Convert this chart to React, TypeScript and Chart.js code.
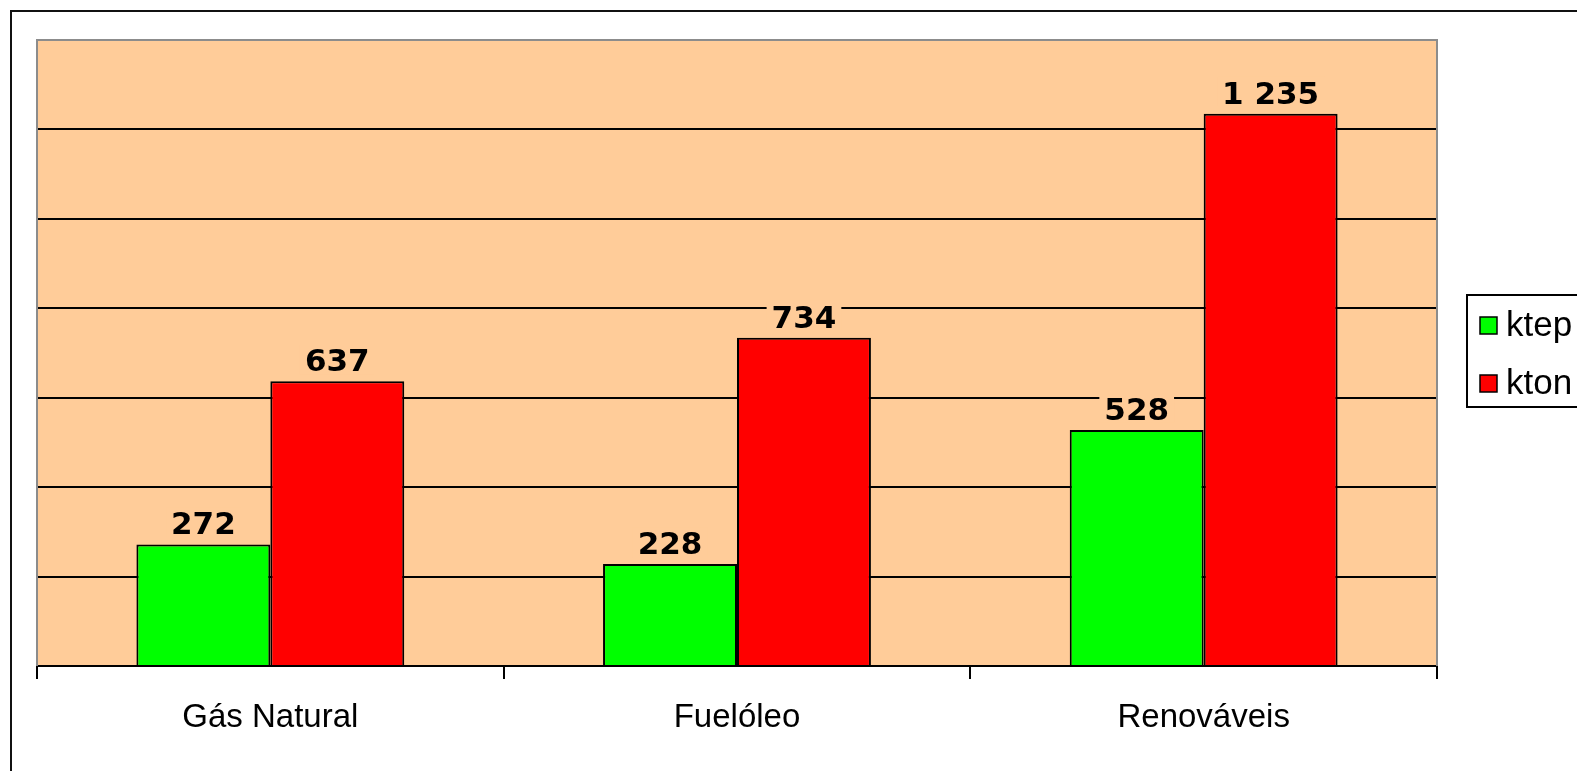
import React, { useEffect, useRef } from "react";
import { Chart, registerables } from "chart.js";

Chart.register(...registerables);

const categories = ["Gás Natural", "Fuelóleo", "Renováveis"];
const seriesNames = ["ktep", "kton"];
const ktepValues = [272, 228, 528];
const ktonValues = [637, 734, 1235];
const yMax = 1400;
const yStep = 200;

const PLOT_BG = "#FFCC99";
const GREEN = "#00FF00";
const RED = "#FF0000";

function fmt(v: number): string {
  return String(v).replace(/\B(?=(\d{3})+(?!\d))/g, " ");
}

const decorPlugin = {
  id: "decor",
  beforeDraw(chart: any) {
    const { ctx, chartArea: a, width, height } = chart;
    ctx.save();
    ctx.fillStyle = "#FFFFFF";
    ctx.fillRect(0, 0, width, height);
    ctx.fillStyle = PLOT_BG;
    ctx.fillRect(a.left, a.top, a.right - a.left, a.bottom - a.top);
    // outer chart border (continues past the visible edge)
    ctx.strokeStyle = "#111111";
    ctx.lineWidth = 2;
    ctx.strokeRect(11, 11, width + 50, height + 50);
    ctx.restore();
  },
  afterDatasetsDraw(chart: any) {
    const { ctx } = chart;
    ctx.save();
    ctx.font = "bold 31px 'DejaVu Sans'";
    ctx.textAlign = "center";
    ctx.textBaseline = "alphabetic";
    chart.data.datasets.forEach((ds: any, di: number) => {
      const meta = chart.getDatasetMeta(di);
      meta.data.forEach((bar: any, i: number) => {
        const txt = fmt(ds.data[i]);
        const w = ctx.measureText(txt).width;
        const y = bar.y - 10;
        ctx.fillStyle = PLOT_BG;
        ctx.fillRect(bar.x - w / 2 - 5, y - 27, w + 10, 30);
        ctx.fillStyle = "#000000";
        ctx.fillText(txt, bar.x, y);
      });
    });
    ctx.restore();
  },
  afterDraw(chart: any) {
    const { ctx, chartArea: a } = chart;
    ctx.save();
    // plot frame (grey) on left, top, right
    ctx.strokeStyle = "#8C8C8C";
    ctx.lineWidth = 2;
    ctx.beginPath();
    ctx.moveTo(a.left, a.bottom);
    ctx.lineTo(a.left, a.top);
    ctx.lineTo(a.right, a.top);
    ctx.lineTo(a.right, a.bottom);
    ctx.stroke();
    // legend
    const lx = 1467;
    const ly = 295;
    ctx.strokeStyle = "#000000";
    ctx.lineWidth = 2;
    ctx.strokeRect(lx, ly, 200, 112);
    ctx.font = "35px 'Liberation Sans'";
    ctx.textAlign = "left";
    ctx.textBaseline = "middle";
    chart.data.datasets.forEach((ds: any, di: number) => {
      const cy = 326 + di * 58;
      ctx.fillStyle = ds.backgroundColor;
      ctx.fillRect(1480, cy - 9, 17, 17);
      ctx.strokeStyle = "#000000";
      ctx.lineWidth = 1.5;
      ctx.strokeRect(1480, cy - 9, 17, 17);
      ctx.fillStyle = "#000000";
      ctx.fillText(ds.label, 1506, cy);
    });
    ctx.restore();
  },
};

export default function App() {
  const ref = useRef<HTMLCanvasElement | null>(null);
  useEffect(() => {
    if (!ref.current) return;
    const chart = new Chart(ref.current, {
      type: "bar",
      data: {
        labels: categories,
        datasets: [
          {
            label: seriesNames[0],
            data: ktepValues,
            backgroundColor: GREEN,
            borderColor: "#000000",
            borderWidth: 2,
            categoryPercentage: 0.574,
            barPercentage: 1,
          },
          {
            label: seriesNames[1],
            data: ktonValues,
            backgroundColor: RED,
            borderColor: "#000000",
            borderWidth: 2,
            categoryPercentage: 0.574,
            barPercentage: 1,
          },
        ],
      },
      options: {
        responsive: false,
        animation: false,
        devicePixelRatio: 1,
        layout: { padding: { left: 37, top: 40, right: 140, bottom: 0 } },
        plugins: {
          legend: { display: false },
          tooltip: { enabled: false },
          title: { display: false },
        },
        scales: {
          x: {
            offset: true,
            grid: {
              offset: true,
              drawOnChartArea: false,
              drawTicks: true,
              tickLength: 13,
              color: "#000000",
              lineWidth: 2,
            },
            border: { display: true, color: "#000000", width: 2 },
            ticks: {
              color: "#000000",
              font: { family: "'Liberation Sans'", size: 33 },
              padding: 19,
              maxRotation: 0,
            },
            afterFit(scale: any) {
              scale.height = 105;
            },
          },
          y: {
            min: 0,
            max: yMax,
            ticks: { display: false, stepSize: yStep },
            grid: {
              drawTicks: false,
              lineWidth: 2,
              color: (c: any) =>
                c.tick && c.tick.value > 0 && c.tick.value < yMax ? "#000000" : "rgba(0,0,0,0)",
            },
            border: { display: false },
            afterFit(scale: any) {
              scale.width = 0;
            },
          },
        },
      },
      plugins: [decorPlugin],
    });
    return () => chart.destroy();
  }, []);
  return (
    <div style={{ position: "fixed", left: 0, top: 0, width: 1577, height: 771, overflow: "hidden", background: "#fff" }}>
      <canvas ref={ref} width={1577} height={771} style={{ display: "block" }} />
    </div>
  );
}
